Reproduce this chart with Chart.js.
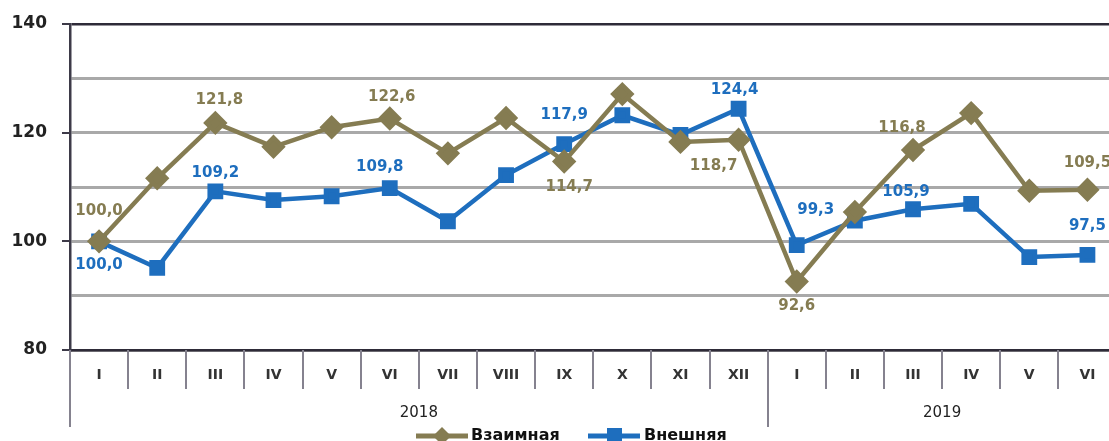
<!DOCTYPE html>
<html>
<head>
<meta charset="utf-8">
<script src="https://cdn.jsdelivr.net/npm/chart.js@4.4.1/dist/chart.umd.min.js"></script>
<style>
  html, body { margin: 0; padding: 0; background: #fff; overflow: hidden; }
  #clip { width: 1109px; height: 441px; overflow: hidden; }
  canvas { display: block; }
</style>
</head>
<body>
<div id="clip"><canvas id="chart" width="1130" height="441" style="width:1130px;height:441px"></canvas></div>
<script>
const months = ["I", "II", "III", "IV", "V", "VI", "VII", "VIII", "IX", "X", "XI", "XII",
                "I", "II", "III", "IV", "V", "VI"];
const yearLabels = ["2018", "2019"];
const yearSpans = [12, 6];

const mutual   = [100.0, 111.6, 121.8, 117.4, 121.0, 122.6, 116.2, 122.7, 114.7, 127.1, 118.3, 118.7,
                  92.6, 105.4, 116.8, 123.6, 109.3, 109.5];
const external = [100.0, 95.1, 109.2, 107.6, 108.3, 109.8, 103.7, 112.2, 117.9, 123.2, 119.6, 124.4,
                  99.3, 103.8, 105.9, 106.9, 97.1, 97.5];

const labeled = [0, 2, 5, 8, 11, 12, 14, 17];

// label offsets in px, per labelled point
const mutualPlace = {0: [0, -30], 2: [4, -23], 5: [2, -21], 8: [5, 26], 11: [-25, 26],
                     12: [0, 25], 14: [-11, -22], 17: [0, -27]};
const externalPlace = {0: [0, 24], 2: [0, -18], 5: [-10, -21], 8: [0, -29], 11: [-4, -19],
                       12: [19, -35], 14: [-7, -17], 17: [0, -29]};

const OLIVE = "#857c52";
const BLUE = "#1e6ebe";
const FONT = "'DejaVu Sans', sans-serif";

function fmt(v) { return v.toFixed(1).replace(".", ","); }

function noPad(s) {
  s.paddingTop = 0; s.paddingBottom = 0; s.paddingLeft = 0; s.paddingRight = 0;
}

const extras = {
  id: "extras",
  afterDraw(chart) {
    const ctx = chart.ctx;
    const y = chart.scales.y;
    const area = chart.chartArea;
    const w = (area.right - area.left) / months.length;

    ctx.save();
    // y tick marks
    ctx.strokeStyle = "#3d3a48";
    ctx.lineWidth = 2;
    [80, 100, 120, 140].forEach(v => {
      const py = Math.round(y.getPixelForValue(v));
      ctx.beginPath(); ctx.moveTo(area.left - 8, py); ctx.lineTo(area.left, py); ctx.stroke();
    });

    // separators below axis
    ctx.strokeStyle = "#85828f";
    let yearStarts = [0];
    yearSpans.reduce((a, s) => { yearStarts.push(a + s); return a + s; }, 0);
    for (let k = 0; k < months.length; k++) {
      const px = Math.round(area.left + w * k);
      const long = yearStarts.includes(k);
      ctx.beginPath();
      ctx.moveTo(px, area.bottom);
      ctx.lineTo(px, area.bottom + (long ? 77 : 39));
      ctx.stroke();
    }

    // year labels
    ctx.fillStyle = "#222";
    ctx.font = "15px " + FONT;
    ctx.textAlign = "center";
    ctx.textBaseline = "middle";
    let start = 0;
    yearLabels.forEach((lab, i) => {
      const a = area.left + w * start, b = area.left + w * (start + yearSpans[i]);
      ctx.fillText(lab, (a + b) / 2, area.bottom + 63);
      start += yearSpans[i];
    });

    // data labels
    ctx.font = "bold 15px " + FONT;
    [[0, mutual, mutualPlace, OLIVE], [1, external, externalPlace, BLUE]].forEach(([di, data, place, col]) => {
      const meta = chart.getDatasetMeta(di);
      ctx.fillStyle = col;
      labeled.forEach(i => {
        const p = meta.data[i];
        const off = place[i];
        ctx.fillText(fmt(data[i]), p.x + off[0], p.y + off[1]);
      });
    });

    // legend
    const ly = 436;
    ctx.lineWidth = 5;
    ctx.strokeStyle = OLIVE; ctx.fillStyle = OLIVE;
    ctx.beginPath(); ctx.moveTo(416, ly); ctx.lineTo(468, ly); ctx.stroke();
    ctx.beginPath(); ctx.moveTo(442, ly - 9); ctx.lineTo(451, ly); ctx.lineTo(442, ly + 9); ctx.lineTo(433, ly); ctx.closePath(); ctx.fill();
    ctx.strokeStyle = BLUE; ctx.fillStyle = BLUE;
    ctx.beginPath(); ctx.moveTo(588, ly); ctx.lineTo(640, ly); ctx.stroke();
    ctx.fillRect(607, ly - 8, 15, 15);
    ctx.fillStyle = "#111";
    ctx.font = "bold 16px " + FONT;
    ctx.textAlign = "left";
    ctx.fillText("Взаимная", 471, ly);
    ctx.fillText("Внешняя", 644, ly);
    ctx.restore();
  }
};

new Chart(document.getElementById("chart"), {
  type: "line",
  data: {
    labels: months,
    datasets: [{
      label: "Взаимная",
      data: mutual,
      borderColor: OLIVE,
      backgroundColor: OLIVE,
      borderWidth: 4.5,
      pointStyle: "rectRot",
      pointRadius: 9,
      pointHoverRadius: 9,
      tension: 0
    }, {
      label: "Внешняя",
      data: external,
      borderColor: BLUE,
      backgroundColor: BLUE,
      borderWidth: 4.5,
      pointStyle: "rect",
      pointRadius: 8,
      pointHoverRadius: 8,
      tension: 0
    }]
  },
  options: {
    responsive: false,
    animation: false,
    layout: { padding: { top: 24, right: 0, left: 0, bottom: 0 } },
    plugins: { legend: { display: false }, tooltip: { enabled: false } },
    scales: {
      x: {
        offset: true,
        grid: { display: true, drawOnChartArea: false, drawTicks: false },
        border: { display: true, color: "#2e2b38", width: 2.5 },
        ticks: { color: "#333", font: { family: FONT, size: 14, weight: "bold" }, padding: 17 },
        afterFit(s) { s.height = 91; noPad(s); }
      },
      y: {
        min: 80, max: 140,
        ticks: {
          stepSize: 10,
          padding: 23,
          color: "#222",
          font: { family: FONT, size: 17, weight: "bold" },
          callback: v => (v % 20 === 0 ? v : "")
        },
        grid: {
          drawTicks: false,
          color: c => (c.tick.value === 140 ? "#2e2b38" : "#a9a9a9"),
          lineWidth: c => (c.tick.value === 140 ? 2.5 : 3)
        },
        border: { display: true, color: "#3d3a48", width: 2.5 },
        afterFit(s) { s.width = 70; noPad(s); }
      }
    }
  },
  plugins: [extras]
});
</script>
</body>
</html>
